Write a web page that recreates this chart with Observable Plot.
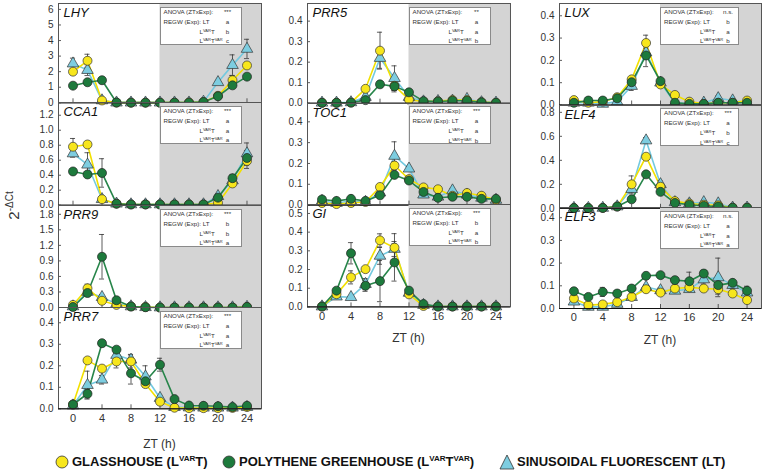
<!DOCTYPE html>
<html><head><meta charset="utf-8">
<script src="https://cdn.jsdelivr.net/npm/d3@7"></script>
<script src="https://cdn.jsdelivr.net/npm/@observablehq/plot@0.6"></script>
<style>
body{margin:0;background:#fff;}
#root{position:relative;width:763px;height:476px;overflow:hidden;font-family:"Liberation Sans Narrow","Liberation Sans",Arial,sans-serif;color:#222;}
#root svg{position:absolute;overflow:visible;}
.stat{position:absolute;background:#fff;border:1px solid #8a8a8a;box-sizing:border-box;font-family:"Liberation Sans",Arial,sans-serif;font-size:6.2px;line-height:7px;color:#333;}
.stat div{position:absolute;white-space:nowrap;}
.stat sup{font-size:4px;vertical-align:2.5px;line-height:0;}
.zt{position:absolute;font-size:12px;transform:translateX(-50%);white-space:nowrap;color:#333;}
#ytitle{position:absolute;font-size:15px;white-space:nowrap;transform-origin:center;color:#333;}
#ytitle sup{font-size:10px;vertical-align:6px;line-height:0;}
.leg{position:absolute;font-weight:bold;font-size:13px;white-space:nowrap;color:#111;top:454px;}
.leg sup{font-size:8px;vertical-align:5px;line-height:0;}
</style>
</head><body><div id="root"></div>
<script>
// ---------------- data ----------------
const ZT = [0, 2, 4, 6, 8, 10, 12, 14, 16, 18, 20, 22, 24];
const xTicks = [0, 4, 8, 12, 16, 20, 24];
const darkStart = 12;

const genes = ["LHY", "CCA1", "PRR9", "PRR7", "PRR5", "TOC1", "GI", "LUX", "ELF4", "ELF3"];
const anova = ["***", "***", "***", "***", "**", "***", "***", "n.s.", "***", "n.s."];
const regwLT = ["a", "a", "b", "a", "a", "a", "b", "b", "a", "a"];
const regwLvarT = ["b", "a", "b", "a", "a", "a", "a", "a", "b", "a"];
const regwLvarTvar = ["c", "a", "a", "a", "b", "b", "b", "b", "c", "a"];

// glasshouse (LvarT), polythene (LvarTvar), sinusoidal fluorescent (LT)
const LHY_glass = [2.0, 2.7, 0.15, 0.01, 0.01, 0.01, 0.01, 0.01, 0.02, 0.05, 0.45, 1.45, 2.4];
const LHY_poly  = [1.1, 1.32, 1.45, 0.02, 0.01, 0.01, 0.01, 0.01, 0.01, 0.05, 0.42, 1.12, 1.68];
const LHY_lt    = [2.52, 2.1, 0.15, 0.01, 0.01, 0.01, 0.01, 0.01, 0.01, 0.06, 1.32, 2.42, 3.46];
const LHY_glass_sd = [0.2, 0.42, 0.05, 0, 0, 0, 0, 0, 0, 0, 0.1, 0.3, 0.2];
const LHY_poly_sd  = [0.1, 0.1, 0.1, 0, 0, 0, 0, 0, 0, 0, 0.1, 0.15, 0.15];
const LHY_lt_sd    = [0.35, 0.35, 0, 0, 0, 0, 0, 0, 0, 0, 0.1, 0.66, 0.62];

const CCA1_glass = [0.78, 0.81, 0.08, 0.02, 0.01, 0.01, 0.01, 0.01, 0.01, 0.01, 0.03, 0.29, 0.59];
const CCA1_poly  = [0.45, 0.41, 0.43, 0.02, 0.01, 0.01, 0.01, 0.01, 0.01, 0.01, 0.10, 0.36, 0.63];
const CCA1_lt    = [0.69, 0.54, 0.08, 0.02, 0.01, 0.01, 0.01, 0.01, 0.01, 0.01, 0.12, 0.33, 0.69];
const CCA1_glass_sd = [0.11, 0.02, 0.03, 0, 0, 0, 0, 0, 0, 0, 0.02, 0.03, 0.1];
const CCA1_poly_sd  = [0.02, 0.02, 0.19, 0, 0, 0, 0, 0, 0, 0, 0.03, 0.05, 0.1];
const CCA1_lt_sd    = [0.05, 0.16, 0.02, 0, 0, 0, 0, 0, 0, 0, 0.03, 0.03, 0.14];

const PRR9_glass = [0.05, 0.37, 0.13, 0.05, 0.02, 0.01, 0.0, 0.0, 0.0, 0.0, 0.0, 0.0, 0.01];
const PRR9_poly  = [0.01, 0.28, 0.98, 0.14, 0.02, 0.005, 0.0, 0.0, 0.0, 0.0, 0.0, 0.0, 0.01];
const PRR9_lt    = [0.02, 0.3, 0.2, 0.07, 0.02, 0.005, 0.0, 0.0, 0.0, 0.0, 0.0, 0.0, 0.01];
const PRR9_glass_sd = [0.02, 0.08, 0.03, 0, 0, 0, 0, 0, 0, 0, 0, 0, 0];
const PRR9_poly_sd  = [0, 0.05, 0.43, 0.02, 0, 0, 0, 0, 0, 0, 0, 0, 0];
const PRR9_lt_sd    = [0, 0.05, 0.05, 0, 0, 0, 0, 0, 0, 0, 0, 0, 0];

const PRR7_glass = [0.02, 0.225, 0.187, 0.22, 0.22, 0.115, 0.033, 0.005, 0.003, 0.003, 0.003, 0.004, 0.008];
const PRR7_poly  = [0.02, 0.07, 0.305, 0.275, 0.165, 0.128, 0.205, 0.045, 0.015, 0.014, 0.012, 0.008, 0.014];
const PRR7_lt    = [0.015, 0.11, 0.135, 0.25, 0.228, 0.15, 0.05, 0.008, 0.006, 0.005, 0.005, 0.005, 0.008];
const PRR7_glass_sd = [0, 0.005, 0.01, 0.03, 0.03, 0.01, 0.005, 0, 0, 0, 0, 0, 0];
const PRR7_poly_sd  = [0, 0.02, 0.005, 0.01, 0.05, 0.01, 0.03, 0.005, 0, 0, 0, 0, 0];
const PRR7_lt_sd    = [0, 0.065, 0.02, 0.01, 0.025, 0.05, 0.01, 0, 0, 0, 0, 0, 0];

const PRR5_glass = [0.002, 0.002, 0.003, 0.07, 0.256, 0.085, 0.017, 0.008, 0.01, 0.015, 0.015, 0.005, 0.002];
const PRR5_poly  = [0.002, 0.002, 0.003, 0.015, 0.092, 0.082, 0.053, 0.01, 0.008, 0.012, 0.012, 0.004, 0.002];
const PRR5_lt    = [0.002, 0.002, 0.004, 0.03, 0.22, 0.122, 0.03, 0.008, 0.01, 0.012, 0.02, 0.004, 0.002];
const PRR5_glass_sd = [0, 0, 0, 0.01, 0.09, 0.03, 0.01, 0, 0, 0.005, 0.005, 0, 0];
const PRR5_poly_sd  = [0, 0, 0, 0.005, 0.015, 0.02, 0.015, 0, 0, 0, 0, 0, 0];
const PRR5_lt_sd    = [0, 0, 0, 0.005, 0.05, 0.06, 0.01, 0, 0, 0, 0.005, 0, 0];

const TOC1_glass = [0.01, 0.005, 0.01, 0.015, 0.087, 0.19, 0.125, 0.085, 0.076, 0.045, 0.058, 0.045, 0.025];
const TOC1_poly  = [0.027, 0.02, 0.03, 0.02, 0.047, 0.145, 0.118, 0.063, 0.035, 0.04, 0.04, 0.03, 0.03];
const TOC1_lt    = [0.02, 0.01, 0.02, 0.015, 0.06, 0.236, 0.175, 0.05, 0.04, 0.07, 0.05, 0.035, 0.025];
const TOC1_glass_sd = [0, 0, 0, 0, 0.01, 0.02, 0.01, 0.01, 0.01, 0, 0.01, 0.005, 0];
const TOC1_poly_sd  = [0.005, 0, 0.005, 0, 0.005, 0.015, 0.01, 0.01, 0.005, 0, 0.005, 0, 0];
const TOC1_lt_sd    = [0, 0, 0, 0, 0.01, 0.068, 0.01, 0.01, 0.01, 0.01, 0.02, 0.01, 0];

const GI_glass = [0.002, 0.068, 0.158, 0.202, 0.356, 0.317, 0.067, 0.005, 0.002, 0.002, 0.002, 0.002, 0.002];
const GI_poly  = [0.002, 0.087, 0.287, 0.113, 0.138, 0.238, 0.087, 0.015, 0.002, 0.002, 0.002, 0.002, 0.002];
const GI_lt    = [0.002, 0.055, 0.052, 0.122, 0.273, 0.31, 0.075, 0.01, 0.002, 0.002, 0.002, 0.002, 0.002];
const GI_glass_sd = [0, 0.01, 0.035, 0.01, 0.035, 0.075, 0.01, 0, 0, 0, 0, 0, 0];
const GI_poly_sd  = [0, 0.01, 0.057, 0.03, 0.11, 0.1, 0.01, 0, 0, 0, 0, 0, 0];
const GI_lt_sd    = [0, 0.005, 0.005, 0.03, 0.045, 0.04, 0.01, 0, 0, 0, 0, 0, 0];

const LUX_glass = [0.022, 0.01, 0.015, 0.035, 0.115, 0.278, 0.092, 0.045, 0.015, 0.005, 0.01, 0.01, 0.02];
const LUX_poly  = [0.01, 0.02, 0.02, 0.03, 0.102, 0.222, 0.107, 0.01, 0.005, 0.005, 0.01, 0.01, 0.01];
const LUX_lt    = [0.01, 0.01, 0.005, 0.015, 0.085, 0.235, 0.1, 0.01, 0.005, 0.01, 0.03, 0.02, 0.01];
const LUX_glass_sd = [0, 0, 0, 0, 0.01, 0.035, 0.01, 0.005, 0, 0, 0, 0, 0];
const LUX_poly_sd  = [0, 0, 0, 0.005, 0.01, 0.05, 0.01, 0, 0, 0, 0, 0, 0];
const LUX_lt_sd    = [0, 0, 0, 0, 0.02, 0.02, 0.01, 0, 0, 0.005, 0.01, 0.01, 0];

const ELF4_glass = [0.002, 0.002, 0.003, 0.014, 0.2, 0.43, 0.18, 0.06, 0.04, 0.03, 0.025, 0.005, 0.005];
const ELF4_poly  = [0.002, 0.002, 0.003, 0.015, 0.075, 0.283, 0.137, 0.045, 0.03, 0.02, 0.015, 0.005, 0.005];
const ELF4_lt    = [0.002, 0.002, 0.003, 0.015, 0.16, 0.565, 0.2, 0.05, 0.04, 0.05, 0.04, 0.005, 0.005];
const ELF4_glass_sd = [0, 0, 0, 0, 0.07, 0.02, 0.02, 0.01, 0.01, 0, 0, 0, 0];
const ELF4_poly_sd  = [0, 0, 0, 0, 0.01, 0.01, 0.01, 0, 0, 0, 0, 0, 0];
const ELF4_lt_sd    = [0, 0, 0, 0, 0.04, 0.025, 0.03, 0.01, 0.01, 0.01, 0.01, 0, 0];

const ELF3_glass = [0.044, 0.015, 0.018, 0.028, 0.051, 0.085, 0.07, 0.088, 0.093, 0.088, 0.085, 0.066, 0.037];
const ELF3_poly  = [0.076, 0.051, 0.073, 0.066, 0.088, 0.144, 0.147, 0.125, 0.12, 0.154, 0.103, 0.113, 0.078];
const ELF3_lt    = [0.03, 0.007, 0.007, 0.02, 0.05, 0.095, 0.08, 0.078, 0.085, 0.128, 0.137, 0.103, 0.07];
const ELF3_glass_sd = [0.01, 0.005, 0.005, 0.005, 0.005, 0.01, 0.01, 0.01, 0.01, 0.01, 0.01, 0.01, 0.01];
const ELF3_poly_sd  = [0.01, 0.005, 0.02, 0.01, 0.01, 0.01, 0.01, 0.01, 0.04, 0.015, 0.04, 0.01, 0.02];
const ELF3_lt_sd    = [0.005, 0.005, 0.005, 0.005, 0.005, 0.01, 0.01, 0.01, 0.01, 0.02, 0.085, 0.015, 0.01];

// y tick values per gene
const LHY_ticks  = [0, 1, 2, 3, 4, 5, 6];
const CCA1_ticks = [0, 0.2, 0.4, 0.6, 0.8, 1.0, 1.2];
const PRR9_ticks = [0, 0.3, 0.6, 0.9, 1.2, 1.5, 1.8];
const PRR7_ticks = [0, 0.1, 0.2, 0.3, 0.4];
const PRR5_ticks = [0, 0.1, 0.2, 0.3, 0.4];
const TOC1_ticks = [0, 0.1, 0.2, 0.3, 0.4];
const GI_ticks   = [0, 0.1, 0.2, 0.3, 0.4, 0.5];
const LUX_ticks  = [0, 0.1, 0.2, 0.3, 0.4];
const ELF4_ticks = [0, 0.2, 0.4, 0.6, 0.8];
const ELF3_ticks = [0, 0.1, 0.2, 0.3, 0.4];

// ---------------- assembly ----------------
const DATA = {
  LHY: [LHY_glass, LHY_poly, LHY_lt, LHY_glass_sd, LHY_poly_sd, LHY_lt_sd, LHY_ticks],
  CCA1: [CCA1_glass, CCA1_poly, CCA1_lt, CCA1_glass_sd, CCA1_poly_sd, CCA1_lt_sd, CCA1_ticks],
  PRR9: [PRR9_glass, PRR9_poly, PRR9_lt, PRR9_glass_sd, PRR9_poly_sd, PRR9_lt_sd, PRR9_ticks],
  PRR7: [PRR7_glass, PRR7_poly, PRR7_lt, PRR7_glass_sd, PRR7_poly_sd, PRR7_lt_sd, PRR7_ticks],
  PRR5: [PRR5_glass, PRR5_poly, PRR5_lt, PRR5_glass_sd, PRR5_poly_sd, PRR5_lt_sd, PRR5_ticks],
  TOC1: [TOC1_glass, TOC1_poly, TOC1_lt, TOC1_glass_sd, TOC1_poly_sd, TOC1_lt_sd, TOC1_ticks],
  GI: [GI_glass, GI_poly, GI_lt, GI_glass_sd, GI_poly_sd, GI_lt_sd, GI_ticks],
  LUX: [LUX_glass, LUX_poly, LUX_lt, LUX_glass_sd, LUX_poly_sd, LUX_lt_sd, LUX_ticks],
  ELF4: [ELF4_glass, ELF4_poly, ELF4_lt, ELF4_glass_sd, ELF4_poly_sd, ELF4_lt_sd, ELF4_ticks],
  ELF3: [ELF3_glass, ELF3_poly, ELF3_lt, ELF3_glass_sd, ELF3_poly_sd, ELF3_lt_sd, ELF3_ticks]
};

// layout: column x extents, panel y extents, y domain max
const colLeft = [58, 307, 559];
const colWidth = [203, 203, 202];
const LAYOUT = {
  LHY:  {col: 0, top: 3,     bottom: 102.3, ymax: 6.38},
  CCA1: {col: 0, top: 102.3, bottom: 205,   ymax: 1.37},
  PRR9: {col: 0, top: 205,   bottom: 307,   ymax: 1.97},
  PRR7: {col: 0, top: 307,   bottom: 408.3, ymax: 0.471, last: true},
  PRR5: {col: 1, top: 3,     bottom: 102.7, ymax: 0.486},
  TOC1: {col: 1, top: 102.7, bottom: 204.3, ymax: 0.488},
  GI:   {col: 1, top: 204.3, bottom: 306.7, ymax: 0.548, last: true},
  LUX:  {col: 2, top: 3,     bottom: 104.5, ymax: 0.455},
  ELF4: {col: 2, top: 104.5, bottom: 207.3, ymax: 0.857},
  ELF3: {col: 2, top: 207.3, bottom: 308.3, ymax: 0.445, last: true}
};
const xDomain = [-2, 26];

const COLORS = {glass: "#f7e61c", poly: "#1d7a3c", lt: "#7dcde0"};
const LINE = {glass: "#f2e000", poly: "#27854a", lt: "#74c9df"};

const root = document.getElementById("root");

genes.forEach((g, gi) => {
  const [glass, poly, lt, glassSd, polySd, ltSd, ticks] = DATA[g];
  const L = LAYOUT[g];
  const w = colWidth[L.col], h = L.bottom - L.top;
  const mL = 40, mR = 1, mT = 1, mB = L.last ? 24 : 1;
  const rows = [];
  [["lt", lt, ltSd], ["glass", glass, glassSd], ["poly", poly, polySd]].forEach(([k, v, e]) => {
    ZT.forEach((x, i) => rows.push({s: k, x, y: v[i], e: e[i]}));
  });
  const errs = rows.filter(d => d.e > 0);
  const ser = k => rows.filter(d => d.s === k);
  const fmt = g === "LHY" ? d3.format("d") : d3.format(".1f");
  const marks = [
    Plot.rect([{}], {x1: darkStart, x2: xDomain[1], y1: 0, y2: L.ymax, fill: "#d4d4d4"}),
    Plot.tickX(xTicks, {x: d => d, insetTop: h - 4, stroke: "#333", strokeWidth: 0.8}),
    Plot.tickY(ticks, {y: d => d, insetRight: w - 3, stroke: "#333", strokeWidth: 0.8}),
    Plot.axisY({ticks, tickFormat: fmt, tickSize: 0, tickPadding: 5, fontSize: 10, fill: "#333", label: null}),
    L.last ? Plot.axisX({ticks: xTicks, tickSize: 0, tickPadding: 5, fontSize: 11, fill: "#333", label: null}) : null,
    Plot.line(ser("lt"), {x: "x", y: "y", stroke: LINE.lt, strokeWidth: 1.6}),
    Plot.line(ser("glass"), {x: "x", y: "y", stroke: LINE.glass, strokeWidth: 1.6}),
    Plot.line(ser("poly"), {x: "x", y: "y", stroke: LINE.poly, strokeWidth: 1.6}),
    Plot.ruleX(errs, {x: "x", y1: d => d.y - d.e, y2: d => d.y + d.e, stroke: "#333", strokeWidth: 0.8}),
    Plot.ruleY(errs, {y: d => d.y + d.e, x1: d => d.x - 0.35, x2: d => d.x + 0.35, stroke: "#333", strokeWidth: 0.8}),
    Plot.ruleY(errs, {y: d => d.y - d.e, x1: d => d.x - 0.35, x2: d => d.x + 0.35, stroke: "#333", strokeWidth: 0.8}),
    Plot.dot(ser("lt"), {x: "x", y: "y", symbol: "triangle", r: 4.3, fill: COLORS.lt, stroke: "#333", strokeWidth: 0.7}),
    Plot.dot(ser("glass"), {x: "x", y: "y", r: 4.5, fill: COLORS.glass, stroke: "#333", strokeWidth: 0.7}),
    Plot.dot(ser("poly"), {x: "x", y: "y", r: 4.5, fill: COLORS.poly, stroke: "#222", strokeWidth: 0.7}),
    Plot.frame({stroke: "#555", strokeWidth: 1}),
    Plot.ruleY([0], {stroke: "#111", strokeWidth: 1}),
    Plot.text([g], {text: d => d, frameAnchor: "top-left", dx: 5, dy: 4, lineAnchor: "top", textAnchor: "start",
      fontSize: 13, fontStyle: "italic", fill: "#111"})
  ];
  const svg = Plot.plot({
    width: w + mL + mR, height: h + mT + mB,
    marginLeft: mL, marginRight: mR, marginTop: mT, marginBottom: mB,
    x: {domain: xDomain, axis: null},
    y: {domain: [0, L.ymax], axis: null},
    style: {fontFamily: '"Liberation Sans Narrow","Liberation Sans",Arial,sans-serif', background: "transparent", overflow: "visible"},
    marks
  });
  svg.style.left = (colLeft[L.col] - mL) + "px";
  svg.style.top = (L.top - mT) + "px";
  root.appendChild(svg);

  // statistics box
  const box = document.createElement("div");
  box.className = "stat";
  const bw = L.col === 2 ? 79 : 82;
  box.style.left = (colLeft[L.col] + w / 2) + "px";
  box.style.top = (L.top + 3.5) + "px";
  box.style.width = bw + "px";
  box.style.height = "38px";
  box.innerHTML =
    `<div style="left:3px;top:0px">ANOVA (ZTxExp):</div><div style="left:59px;top:0px;width:16px;text-align:center">${anova[gi]}</div>` +
    `<div style="left:3px;top:10px">REGW (Exp): LT</div><div style="left:59px;top:10px;width:16px;text-align:center">${regwLT[gi]}</div>` +
    `<div style="left:39px;top:20px">L<sup>VAR</sup>T</div><div style="left:59px;top:20px;width:16px;text-align:center">${regwLvarT[gi]}</div>` +
    `<div style="left:39px;top:29.5px">L<sup>VAR</sup>T<sup>VAR</sup></div><div style="left:59px;top:29.5px;width:16px;text-align:center">${regwLvarTvar[gi]}</div>`;
  root.appendChild(box);
});

// x-axis titles
[[0, 437], [1, 331], [2, 333]].forEach(([c, y]) => {
  const d = document.createElement("div");
  d.className = "zt";
  d.textContent = "ZT (h)";
  d.style.left = (colLeft[c] + colWidth[c] / 2) + "px";
  d.style.top = y + "px";
  root.appendChild(d);
});

// y-axis title
const yt = document.createElement("div");
yt.id = "ytitle";
yt.innerHTML = "2<sup>-ΔCt</sup>";
root.appendChild(yt);
const r = yt.getBoundingClientRect();
yt.style.left = (13 - r.width / 2) + "px";
yt.style.top = (205 - r.height / 2) + "px";
yt.style.transform = "rotate(-90deg)";

// bottom legend
const legendItems = [
  {x: 62, shape: "circle", fill: COLORS.glass, html: "GLASSHOUSE (L<sup>VAR</sup>T)"},
  {x: 229, shape: "circle", fill: COLORS.poly, html: "POLYTHENE GREENHOUSE (L<sup>VAR</sup>T<sup>VAR</sup>)"},
  {x: 507, shape: "triangle", fill: COLORS.lt, html: "SINUSOIDAL FLUORESCENT (LT)"}
];
legendItems.forEach(it => {
  const s = document.createElementNS("http://www.w3.org/2000/svg", "svg");
  s.setAttribute("width", 16); s.setAttribute("height", 16);
  s.style.left = (it.x - 8) + "px"; s.style.top = "454px";
  s.innerHTML = it.shape === "circle"
    ? `<circle cx="8" cy="8" r="6" fill="${it.fill}" stroke="#333" stroke-width="0.8"/>`
    : `<path d="M8,1 L15,15 L1,15 Z" fill="${it.fill}" stroke="#333" stroke-width="0.8"/>`;
  root.appendChild(s);
  const t = document.createElement("div");
  t.className = "leg";
  t.style.left = (it.x + 10) + "px";
  t.innerHTML = it.html;
  root.appendChild(t);
});
</script>
</body></html>
